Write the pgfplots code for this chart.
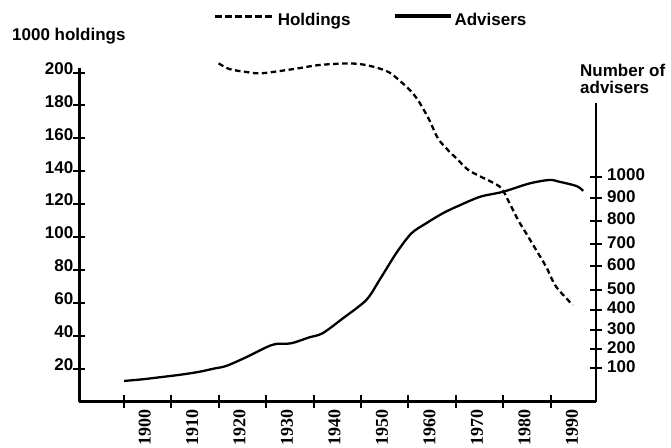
\documentclass[border=0pt]{standalone}
\usepackage{fontspec}
\setmainfont{Liberation Sans}
\newfontfamily\yearfont{Liberation Serif}
\usepackage{pgfplots}
\pgfplotsset{compat=1.18}
\pgfplotstableread{
year  value
1920.0 205.6
1922.3 202.1
1925.5 200.5
1928.6 199.5
1932.8 200.9
1937.0 202.7
1941.2 204.6
1946.5 205.5
1949.7 205.2
1952.9 203.3
1956.0 200.0
1959.2 192.4
1960.9 187.4
1962.3 181.9
1964.4 171.1
1966.2 160.0
1968.3 152.9
1970.1 147.8
1972.5 141.0
1975.0 137.0
1977.5 133.5
1979.6 129.6
1981.3 120.5
1983.1 110.3
1984.8 102.2
1986.9 92.1
1989.0 81.9
1991.1 69.8
1994.6 58.7
}\holdings
\pgfplotstableread{
year  value
1900.1 12.5
1904.0 13.5
1907.5 14.7
1912.0 16.3
1916.0 18.1
1919.0 20.0
1921.6 21.6
1925.8 26.9
1930.0 32.9
1932.1 35.0
1935.3 35.4
1939.1 39.0
1941.9 41.5
1946.2 50.6
1951.1 61.7
1953.9 73.9
1957.4 90.1
1960.6 102.2
1963.7 108.3
1967.2 114.4
1970.4 118.8
1975.1 124.5
1979.9 127.5
1985.5 132.6
1989.7 134.7
1991.8 133.6
1995.4 131.0
1996.8 128.1
}\advisers
\newcommand{\lblfont}{\bfseries\fontsize{17bp}{17bp}\selectfont}
\pgfplotsset{
  holdleg/.style={legend image code/.code={\draw[black, line width=3.5bp, dash pattern=on 7bp off 3bp] (0bp,4bp) -- (59bp,4bp);}},
  advleg/.style={legend image code/.code={\draw[black, line width=4bp] (0bp,4bp) -- (56bp,4bp);}},
  base/.style={
    scale only axis, width=516.5bp, xmin=1890.7, xmax=1999.5, ymin=0,
    clip=false,
    axis line style={line width=2.4bp, -},
    tick style={line width=2bp, black},
    major tick length=12bp, tick align=center,
    /pgf/number format/assume math mode=true,
    ticklabel style={font=\lblfont},
  }
}
\begin{document}
\begin{tikzpicture}
\begin{axis}[base, at={(0,0)}, anchor=south west, height=333.2bp, ymax=202.6,
  axis x line*=bottom, axis y line*=left,
  xtick={1900,1910,...,1990},
  xticklabels={1900,1910,1920,1930,1940,1950,1960,1970,1980,1990},
  xticklabel style={font=\yearfont\bfseries\fontsize{18bp}{18bp}\selectfont, inner sep=0pt, xshift=21bp, yshift=-2bp, rotate=90, anchor=east},
  ytick={20,40,...,200},
  yticklabel style={anchor=east, inner sep=0pt, yshift=4bp},
  ylabel={1000 holdings},
  every axis y label/.style={at={(axis description cs:-0.1307,1.0849)}, anchor=base west, rotate=0, inner sep=0pt, font=\lblfont},
  legend style={draw=none, fill=none, legend columns=2, at={(axis description cs:0.2587,1.144)}, anchor=west, inner sep=0pt, font=\lblfont, /tikz/every even column/.append style={column sep=40bp}},
  legend cell align=left,
]
\addplot[forget plot, black, line width=2.3bp, dash pattern=on 5.5bp off 3.5bp, smooth] table[x=year, y=value] {\holdings};
\addlegendimage{holdleg}
\addlegendentry{Holdings}
\addlegendimage{advleg}
\addlegendentry{Advisers}
\end{axis}
\begin{axis}[base, at={(0,0)}, anchor=south west, height=298.5bp, ymax=181.5,
  axis x line=none, axis y line*=right,
  ytick={20.2,32.0,43.6,55.9,67.9,82.1,95.9,110.0,123.6,136.8},
  yticklabels={100,200,300,400,500,600,700,800,900,1000},
  yticklabel style={anchor=west, inner sep=0pt, xshift=5bp, yshift=1.5bp},
  ylabel={Number of\\advisers},
  every axis y label/.style={at={(axis description cs:0.969,1.1307)}, anchor=north west, rotate=0, align=left, inner sep=0pt, font=\lblfont},
]
\addplot[black, line width=2.3bp, smooth] table[x=year, y=value] {\advisers};
\end{axis}
\pgfresetboundingbox
\path[use as bounding box] (-79.5bp,-46.5bp) rectangle (591.5bp,401.5bp);
\end{tikzpicture}
\end{document}
